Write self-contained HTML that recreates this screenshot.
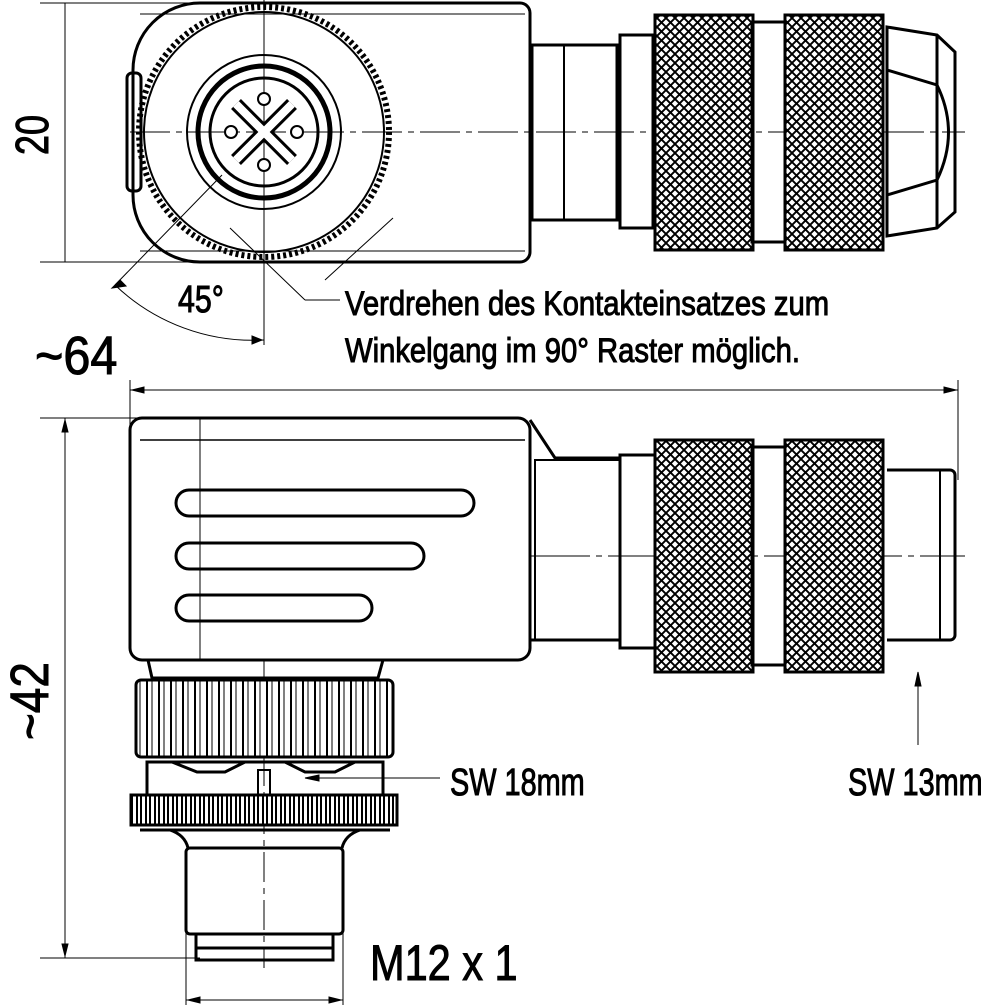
<!DOCTYPE html>
<html><head><meta charset="utf-8"><style>
html,body{margin:0;padding:0;background:#fff;}
svg{display:block;}
text{font-family:"Liberation Sans",sans-serif;fill:#000;}
</style></head><body>
<svg width="981" height="1008" viewBox="0 0 981 1008" xmlns="http://www.w3.org/2000/svg">
<defs>
<pattern id="kn" width="9" height="9" patternUnits="userSpaceOnUse">
<rect width="9" height="9" fill="#fff"/>
<path d="M0 0L9 9M9 0L0 9" stroke="#000" stroke-width="1.9"/>
</pattern>
<pattern id="vl" width="12" height="10" patternUnits="userSpaceOnUse">
<rect width="12" height="10" fill="#fff"/>
<path d="M3 0V10" stroke="#000" stroke-width="2"/>
<path d="M8 0V10" stroke="#000" stroke-width="1"/>
</pattern>
<pattern id="vl2" width="9" height="10" patternUnits="userSpaceOnUse">
<rect width="9" height="10" fill="#fff"/>
<path d="M2 0V10M6 0V10" stroke="#000" stroke-width="2"/>
</pattern>
</defs>
<g fill="none" stroke="#000">
<!-- TOP VIEW -->
<g stroke-width="1">
<line x1="40" y1="3" x2="300" y2="3"/><line x1="40" y1="262" x2="300" y2="262"/>
<line x1="65" y1="3" x2="65" y2="262"/>
<line x1="264" y1="0" x2="264" y2="345"/>
<line x1="130" y1="132" x2="965" y2="132" stroke-dasharray="40 6 6 6"/>
<line x1="222" y1="175" x2="115" y2="285"/>
<line x1="230" y1="228" x2="305" y2="300"/><line x1="305" y1="300" x2="340" y2="300"/>
<line x1="393" y1="218" x2="325" y2="280"/>
<path d="M115 285 A200 200 0 0 0 264 340"/>
</g>
<path d="M120 280l-8 8 14-2z" fill="#000"/>
<path d="M262 340l-10-4v8z" fill="#000"/>
<g stroke-width="3">
<path d="M133 105 V70 A67 67 0 0 1 200 3 H520 a10 10 0 0 1 10 10 V252 a10 10 0 0 1 -10 10 H200 A67 67 0 0 1 133 195 Z"/>
<rect x="127" y="73" width="14" height="118" rx="5"/>
<circle cx="264" cy="132" r="125" stroke-width="6" stroke-dasharray="3 3"/>
<circle cx="264" cy="132" r="120" stroke-width="2"/>
<circle cx="264" cy="132" r="77" stroke-width="2"/>
<circle cx="264" cy="132" r="66" stroke-width="5"/>
<circle cx="264" cy="132" r="54" stroke-width="3"/>
<path d="M236 104 L292 160 M292 104 L236 160" stroke-width="14"/>
<path d="M236 104 L292 160 M292 104 L236 160" stroke="#fff" stroke-width="8"/>
</g>
<g stroke-width="2" fill="#fff">
<circle cx="264" cy="99" r="6"/><circle cx="264" cy="165" r="6"/>
<circle cx="231" cy="132" r="6"/><circle cx="297" cy="132" r="6"/>
</g>
<g stroke-width="1"><line x1="140" y1="14" x2="525" y2="14"/><line x1="140" y1="251" x2="525" y2="251"/></g>
<g stroke-width="3">
<rect x="532" y="45" width="85" height="175"/>
<line x1="564" y1="45" x2="564" y2="220" stroke-width="2"/>
<rect x="620" y="35" width="33" height="193"/>
<rect x="655" y="15" width="98" height="235" fill="url(#kn)"/>
<rect x="752" y="22" width="33" height="220"/>
<rect x="785" y="15" width="98" height="235" fill="url(#kn)"/>
<path d="M887 27 L937 35 L955 52 V212 L937 228 L887 236 Z"/>
<path d="M887 70 L937 85 Q960 132 937 180 L887 195 M937 35 V228"/>
</g>
<!-- labels top -->
<text x="0" y="0" font-size="46" transform="translate(48,155) rotate(-90) scale(0.78,1)">20</text>
<text x="0" y="0" font-size="38" transform="translate(178,312) scale(0.8,1)">45°</text>
<text x="0" y="0" font-size="34" transform="translate(345,315) scale(0.86,1)">Verdrehen des Kontakteinsatzes zum</text>
<text x="0" y="0" font-size="34" transform="translate(345,362) scale(0.86,1)">Winkelgang im 90° Raster möglich.</text>
<text x="0" y="0" font-size="54" transform="translate(35,374) scale(0.9,1)">~64</text>
<!-- dim 64 -->
<g stroke-width="1">
<line x1="130" y1="390" x2="958" y2="390"/>
<line x1="130" y1="380" x2="130" y2="440"/><line x1="958" y1="380" x2="958" y2="480"/>
<line x1="40" y1="418" x2="140" y2="418"/><line x1="40" y1="958" x2="200" y2="958"/>
<line x1="65" y1="418" x2="65" y2="958"/>
<line x1="200" y1="418" x2="200" y2="660"/>
<line x1="264" y1="660" x2="264" y2="968" stroke-dasharray="30 6 6 6"/>
<line x1="530" y1="556" x2="965" y2="556" stroke-dasharray="60 6 6 6"/>
<line x1="186" y1="880" x2="186" y2="1005"/><line x1="343" y1="880" x2="343" y2="1005"/>
<line x1="186" y1="1000" x2="343" y2="1000"/>
<line x1="440" y1="778" x2="305" y2="778"/>
<line x1="918" y1="680" x2="918" y2="745"/>
</g>
<path d="M132 390l12-3v6z M956 390l-12-3v6z M65 420l-3 12h6z M65 956l-3-12h6z M188 1000l12-3v6z M341 1000l-12-3v6z M305 778l14-3v6z M918 672l-3 14h6z" fill="#000"/>
<!-- BOTTOM VIEW -->
<g stroke-width="3">
<rect x="130" y="418" width="400" height="242" rx="12"/>
<line x1="140" y1="440" x2="525" y2="440" stroke-width="1.5"/>
<rect x="176" y="490" width="298" height="26" rx="13"/>
<rect x="176" y="543" width="248" height="26" rx="13"/>
<rect x="176" y="595" width="196" height="26" rx="13"/>
<path d="M530 420 L555 458 H620 V640 H530"/>
<rect x="535" y="460" width="85" height="180" stroke-width="2"/>
<rect x="620" y="455" width="35" height="193"/>
<rect x="655" y="440" width="98" height="232" fill="url(#kn)"/>
<rect x="752" y="447" width="33" height="218"/>
<rect x="785" y="440" width="98" height="232" fill="url(#kn)"/>
<path d="M887 470 H950 a5 5 0 0 1 5 5 V635 a5 5 0 0 1 -5 5 H887"/>
<line x1="940" y1="470" x2="940" y2="640" stroke-width="2"/>
<path d="M148 660 L152 678 H378 L383 660"/>
<rect x="136" y="680" width="257" height="77" rx="5" fill="url(#vl)"/>
<path d="M147 762 H383 V795 H147 Z M147 762 l25 -0 l25 10 H225 l20 -10 h40 l20 10 h30 l20 -10"/>
<rect x="258" y="770" width="12" height="30" stroke-width="2"/>
<rect x="131" y="795" width="266" height="30" fill="url(#vl2)"/>
<path d="M140 830 H390 M170 830 Q185 835 188 848 M360 830 Q345 835 342 848"/>
<rect x="186" y="848" width="157" height="86" rx="4"/>
<path d="M196 934 V960 H333 V934 M196 948 H333"/>
</g>
<text x="0" y="0" font-size="54" transform="translate(48,740) rotate(-90) scale(0.85,1)">~42</text>
<text x="0" y="0" font-size="50" transform="translate(370,980) scale(0.83,1)">M12 x 1</text>
<text x="0" y="0" font-size="38" transform="translate(450,795) scale(0.76,1)">SW 18mm</text>
<text x="0" y="0" font-size="38" transform="translate(848,795) scale(0.76,1)">SW 13mm</text>
</g>
</svg>
</body></html>
